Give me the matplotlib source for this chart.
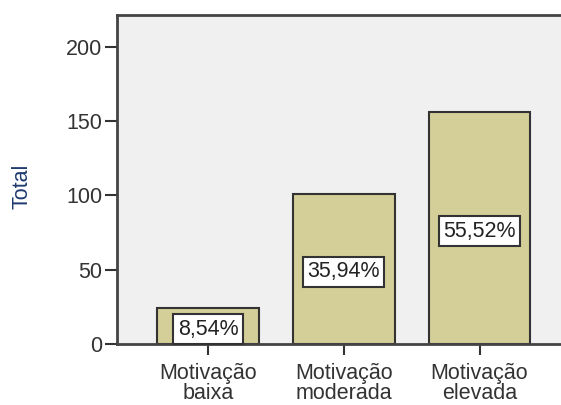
import matplotlib.pyplot as plt

# data
categories = ["Motivação\nbaixa", "Motivação\nmoderada", "Motivação\nelevada"]
totals = [24, 101, 156]
percent_labels = ["8,54%", "35,94%", "55,52%"]
yticks = [0, 50, 100, 150, 200]

plt.rcParams["font.family"] = ["Liberation Sans", "DejaVu Sans"]

fig = plt.figure(figsize=(5.61, 4.05), dpi=100)
ax = fig.add_axes([0.2086, 0.1506, 0.7914, 0.8124])
ax.set_facecolor("#f0f0f0")

x = list(range(len(categories)))
ax.bar(x, totals, width=0.75, color="#d4cf98", edgecolor="#333333",
       linewidth=1.5, zorder=2)

for xi, val, lab in zip(x, totals, percent_labels):
    ax.text(xi, val / 2 - 2, lab, ha="center", va="center", fontsize=15.5,
            color="#222222", zorder=3,
            bbox=dict(boxstyle="square,pad=0.2", facecolor="white",
                      edgecolor="#333333", linewidth=1.5))

ax.set_xlim(-0.67, 2.6)
ax.set_ylim(0, 221.5)
ax.set_yticks(yticks)
ax.set_xticks(x)
ax.set_xticklabels(categories, fontsize=15.5, color="#333333", linespacing=0.88)
ax.tick_params(axis="y", labelsize=15.5, labelcolor="#333333", length=8.5,
               width=1.5, color="#333333", pad=2)
ax.tick_params(axis="x", length=8, width=1.5, color="#333333", pad=6)

for s in ["left", "top", "bottom"]:
    ax.spines[s].set_color("#444444")
    ax.spines[s].set_linewidth(2)
ax.spines["right"].set_visible(False)

ax.set_ylabel("Total", fontsize=15.5, color="#1f3a6e")
ax.yaxis.set_label_coords(-0.19, 0.48)

plt.savefig("out.png", dpi=100)
